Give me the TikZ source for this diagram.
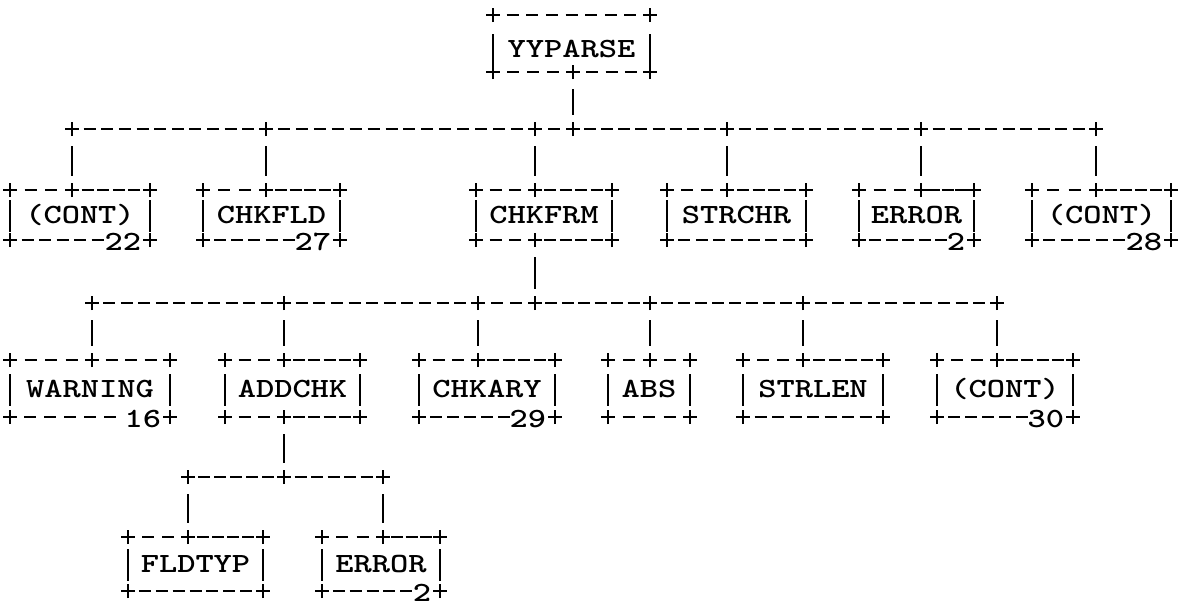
\documentclass[tikz,border=0pt]{standalone}
\usepackage{fontspec}
\usetikzlibrary{calc}
\tikzset{
  boxlbl/.style={font=\ttfamily\bfseries\fontsize{27.8}{28}\selectfont, inner sep=0pt, outer sep=0pt, text height=17pt, text depth=0pt},
  numlbl/.style={font=\ttfamily\bfseries\fontsize{27.8}{28}\selectfont, inner sep=0pt, outer sep=0pt, anchor=east, text height=17pt, text depth=0pt},
  dashseg/.style={line width=2.9pt},
  vbar/.style={line width=2.2pt},
  plusline/.style={line width=2.4pt},
}
\newcommand\wide[1]{\scalebox{1.25}[1]{#1}}
\newcommand\plusat[1]{\draw[plusline] ($(#1)+(-7pt,0pt)$) -- ($(#1)+(7pt,0pt)$) ($(#1)+(0pt,-7pt)$) -- ($(#1)+(0pt,7pt)$);}
\newcommand\hdashes[4]{\foreach \i in {1,...,#4}{\draw[dashseg] ($(#1)!{\i/#3}!(#2)+(-6pt,0pt)$) -- ($(#1)!{\i/#3}!(#2)+(6pt,0pt)$);}}
% name L R T B textY label
\newcommand\abox[7]{%
  \coordinate (#1-nw) at (#2,#4); \coordinate (#1-ne) at (#3,#4);
  \coordinate (#1-sw) at (#2,#5); \coordinate (#1-se) at (#3,#5);
  \node[boxlbl, minimum width={#3-#2}] (#1) at ({(#2+#3)/2},#6) {\wide{#7}};
  \draw[vbar] ($(#1.west)+(0pt,15pt)$) -- ($(#1.west)+(0pt,-17pt)$);
  \draw[vbar] ($(#1.east)+(0pt,15pt)$) -- ($(#1.east)+(0pt,-17pt)$);
  \plusat{#1-nw}\plusat{#1-ne}\plusat{#1-sw}\plusat{#1-se}}
\newcommand\toppl[2]{\pgfmathtruncatemacro\ka{#2-1}\hdashes{#1-nw}{#1-ne}{#2}{\ka}}
\newcommand\botpl[2]{\pgfmathtruncatemacro\ka{#2-1}\hdashes{#1-sw}{#1-se}{#2}{\ka}}
% name Mx m N
\newcommand\topsp[4]{%
  \coordinate (#1-t) at (#2,0 |- #1-nw);
  \pgfmathtruncatemacro\ka{#3-1}\pgfmathtruncatemacro\kb{#4-#3}\pgfmathtruncatemacro\kc{#4-#3-1}%
  \hdashes{#1-nw}{#1-t}{#3}{\ka}\hdashes{#1-t}{#1-ne}{\kb}{\kc}\plusat{#1-t}}
\newcommand\botsp[4]{%
  \coordinate (#1-b) at (#2,0 |- #1-sw);
  \pgfmathtruncatemacro\ka{#3-1}\pgfmathtruncatemacro\kb{#4-#3}\pgfmathtruncatemacro\kc{#4-#3-1}%
  \hdashes{#1-sw}{#1-b}{#3}{\ka}\hdashes{#1-b}{#1-se}{\kb}{\kc}\plusat{#1-b}}
% name N k digits
\newcommand\botnum[4]{%
  \pgfmathtruncatemacro\ka{#2-1-#3}\hdashes{#1-sw}{#1-se}{#2}{\ka}%
  \node[numlbl] (#1-n) at ($(#1-se)+(-9pt,-1.5pt)$) {\wide{#4}};}
\newcommand\rowseg[3]{\pgfmathtruncatemacro\ka{#3-1}\hdashes{#1}{#2}{#3}{\ka}}
\newcommand\vconn[2]{\draw[vbar] ($(#1)+(0pt,-17pt)$) -- ($(#2)+(0pt,14pt)$);}

\begin{document}
\begin{tikzpicture}[x=1pt,y=-1pt]
\useasboundingbox (0,0) rectangle (1184,605);
% boxes
\abox{yy}{493}{650}{15}{72}{49}{YYPARSE}
\toppl{yy}{8}\botsp{yy}{573}{4}{8}

\abox{cont22}{10}{150}{190}{240}{215}{(CONT)}
\topsp{cont22}{72}{3}{8}\botnum{cont22}{8}{2}{22}
\abox{chkfld}{203}{340}{190}{240}{215}{CHKFLD}
\topsp{chkfld}{266}{3}{8}\botnum{chkfld}{8}{2}{27}
\abox{chkfrm}{476}{612}{190}{240}{215}{CHKFRM}
\topsp{chkfrm}{535}{3}{8}\botsp{chkfrm}{535}{3}{8}
\abox{strchr}{667}{806}{190}{240}{215}{STRCHR}
\topsp{strchr}{727}{3}{8}\botpl{strchr}{8}
\abox{errora}{859}{974}{190}{240}{215}{ERROR}
\topsp{errora}{921}{3}{7}\botnum{errora}{7}{1}{2}
\abox{cont28}{1032}{1171}{190}{240}{215}{(CONT)}
\topsp{cont28}{1096}{3}{8}\botnum{cont28}{8}{2}{28}

\abox{warning}{10}{170}{360}{417}{389}{WARNING}
\topsp{warning}{92}{4}{8}\botnum{warning}{8}{2}{16}
\abox{addchk}{225}{360}{360}{417}{389}{ADDCHK}
\topsp{addchk}{284}{3}{8}\botsp{addchk}{284}{3}{8}
\abox{chkary}{419}{555}{360}{417}{389}{CHKARY}
\topsp{chkary}{478}{3}{8}\botnum{chkary}{8}{2}{29}
\abox{abs}{608}{690}{360}{417}{389}{ABS}
\topsp{abs}{650}{2}{4}\botpl{abs}{4}
\abox{strlen}{743}{883}{360}{417}{389}{STRLEN}
\topsp{strlen}{803}{3}{8}\botpl{strlen}{8}
\abox{cont30}{937}{1073}{360}{417}{389}{(CONT)}
\topsp{cont30}{997}{3}{8}\botnum{cont30}{8}{2}{30}

\abox{fldtyp}{128}{263}{537}{591}{564}{FLDTYP}
\topsp{fldtyp}{188}{3}{8}\botpl{fldtyp}{8}
\abox{errorb}{322}{440}{537}{591}{564}{ERROR}
\topsp{errorb}{383}{3}{7}\botnum{errorb}{7}{1}{2}

% row 1
\coordinate (r1a) at (cont22-t |- 0,129);
\coordinate (r1b) at (chkfld-t |- 0,129);
\coordinate (r1c) at (chkfrm-t |- 0,129);
\coordinate (r1d) at (yy-b |- 0,129);
\coordinate (r1e) at (strchr-t |- 0,129);
\coordinate (r1f) at (errora-t |- 0,129);
\coordinate (r1g) at (cont28-t |- 0,129);
\rowseg{r1a}{r1b}{11}\rowseg{r1b}{r1c}{15}\rowseg{r1c}{r1d}{2}
\rowseg{r1d}{r1e}{9}\rowseg{r1e}{r1f}{11}\rowseg{r1f}{r1g}{10}
\foreach \c in {r1a,r1b,r1c,r1d,r1e,r1f,r1g}{\plusat{\c}}
\vconn{yy-b}{r1d}
\vconn{r1a}{cont22-t}\vconn{r1b}{chkfld-t}\vconn{r1c}{chkfrm-t}
\vconn{r1e}{strchr-t}\vconn{r1f}{errora-t}\vconn{r1g}{cont28-t}

% row 2
\coordinate (r2a) at (warning-t |- 0,303);
\coordinate (r2b) at (addchk-t |- 0,303);
\coordinate (r2c) at (chkary-t |- 0,303);
\coordinate (r2d) at (chkfrm-b |- 0,303);
\coordinate (r2e) at (abs-t |- 0,303);
\coordinate (r2f) at (strlen-t |- 0,303);
\coordinate (r2g) at (cont30-t |- 0,303);
\rowseg{r2a}{r2b}{11}\rowseg{r2b}{r2c}{11}\rowseg{r2c}{r2d}{3}
\rowseg{r2d}{r2e}{7}\rowseg{r2e}{r2f}{9}\rowseg{r2f}{r2g}{11}
\foreach \c in {r2a,r2b,r2c,r2d,r2e,r2f,r2g}{\plusat{\c}}
\vconn{chkfrm-b}{r2d}
\vconn{r2a}{warning-t}\vconn{r2b}{addchk-t}\vconn{r2c}{chkary-t}
\vconn{r2e}{abs-t}\vconn{r2f}{strlen-t}\vconn{r2g}{cont30-t}

% row 3
\coordinate (r3a) at (fldtyp-t |- 0,477);
\coordinate (r3b) at (addchk-b |- 0,477);
\coordinate (r3c) at (errorb-t |- 0,477);
\rowseg{r3a}{r3b}{6}\rowseg{r3b}{r3c}{6}
\foreach \c in {r3a,r3b,r3c}{\plusat{\c}}
\vconn{addchk-b}{r3b}
\vconn{r3a}{fldtyp-t}\vconn{r3c}{errorb-t}
\end{tikzpicture}
\end{document}
